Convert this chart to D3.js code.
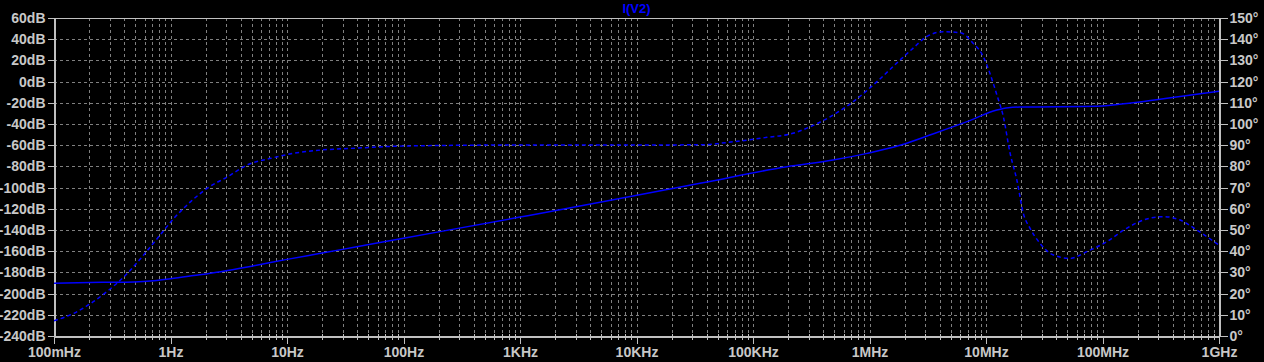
<!DOCTYPE html>
<html>
  <head>
    <meta http-equiv="Content-Type" content="text/html;charset=utf-8"/>
    <script src="https://d3js.org/d3.v7.min.js"></script>
    <style type="text/css">
    body { margin: 0; background: #000; }
    .grid-line {
      stroke: #808080;
      stroke-width: 1px;
      stroke-dasharray: 3,3;
      shape-rendering: crispEdges;
    }
    .axis path, .axis line {
      stroke: #c0c0c0;
      shape-rendering: crispEdges;
    }
    .axis text {
      fill: #c8c8c8;
      font-family: "Liberation Sans", Arial, sans-serif;
      font-size: 14px;
      font-weight: bold;
    }
    </style>
  </head>
  <body>
    <script type="text/javascript">
    // frequency ticks (Hz) and their labels
    var decadeTicks = [0.1, 1, 10, 100, 1e3, 1e4, 1e5, 1e6, 1e7, 1e8, 1e9];
    var decadeLabels = ["100mHz", "1Hz", "10Hz", "100Hz", "1KHz", "10KHz", "100KHz", "1MHz", "10MHz", "100MHz", "1GHz"];
    var dbTicks = [-240, -220, -200, -180, -160, -140, -120, -100, -80, -60, -40, -20, 0, 20, 40, 60];
    var degTicks = [0, 10, 20, 30, 40, 50, 60, 70, 80, 90, 100, 110, 120, 130, 140, 150];

    // magnitude trace I(V2), dB
    var magFreq = [0.1, 0.258, 0.486, 0.72, 1, 1.58, 2.7, 5.2, 10, 19.5, 37.6, 100, 1000, 4860, 35100, 195000, 486000, 955000, 1.83e6, 3.5e6, 6.87e6, 12.4e6, 15.5e6, 19.5e6, 89.7e6, 183e6, 358e6, 1e9];
    var magDb = [-190.3, -189.4, -189, -187.8, -186, -183, -179.3, -173.7, -167.7, -162, -156.3, -147.8, -127.8, -113.9, -96, -80.3, -74, -67.7, -60.1, -49.4, -37.8, -26.8, -24.6, -24, -23.3, -19.9, -15.8, -9.2];

    // phase trace I(V2), degrees
    var phFreq = [0.1, 0.148, 0.207, 0.296, 0.4, 0.555, 0.77, 1.07, 1.49, 2.07, 3.08, 4.57, 7.25, 11.5, 19.4, 35.3, 100, 1000, 10000, 35000, 67300, 132000, 220000, 309000, 486000, 724000, 1.16e6, 1.83e6, 2.36e6, 3.09e6, 4.3e6, 5.99e6, 7.78e6, 9.48e6, 10.8e6, 12.4e6, 14.1e6, 16.1e6, 18.4e6, 20.9e6, 23.9e6, 29.1e6, 37.9e6, 52.6e6, 73.2e6, 109e6, 161e6, 240e6, 334e6, 464e6, 645e6, 1e9];
    var phDeg = [7.2, 10.7, 15.4, 21.7, 28, 36.6, 46, 55.5, 63.4, 69.7, 75.1, 80.7, 83.8, 86.2, 87.7, 88.5, 89.6, 90.1, 90.1, 90.2, 91.6, 93.7, 95.6, 98.7, 104.2, 110.5, 120, 130.2, 135.7, 141.2, 143.5, 143.1, 138, 131.8, 123.9, 113.7, 103.4, 86.2, 73.6, 57.9, 50.8, 43.7, 38.2, 36.6, 39.8, 44.5, 50.8, 55.2, 56.3, 54.7, 50, 42.9];

    var width = 1264;
    var height = 362;
    var plotLeft = 54, plotRight = 1219, plotTop = 18, plotBottom = 336;

    var svg = d3.select("body")
      .append("svg")
        .attr("width", width)
        .attr("height", height)
        .style("display", "block")
        .style("background", "#000");

    var x = d3.scaleLog().domain([0.1, 1e9]).range([plotLeft, plotRight]);
    var yDb = d3.scaleLinear().domain([-240, 60]).range([plotBottom, plotTop]);
    var yDeg = d3.scaleLinear().domain([0, 150]).range([plotBottom, plotTop]);

    var minorTicks = [];
    decadeTicks.slice(0, -1).forEach(function(d) {
      for (var k = 2; k <= 9; k++) minorTicks.push(d * k);
    });

    // grid
    var grid = svg.append("g");
    grid.selectAll("line.v")
      .data(minorTicks.concat(decadeTicks.slice(1, -1)))
      .enter().append("line")
        .classed("grid-line", true)
        .attr("x1", function(d) { return Math.round(x(d)) + 0.5; })
        .attr("x2", function(d) { return Math.round(x(d)) + 0.5; })
        .attr("y1", plotTop)
        .attr("y2", plotBottom);
    grid.selectAll("line.h")
      .data(dbTicks.slice(1, -1))
      .enter().append("line")
        .classed("grid-line", true)
        .attr("x1", plotLeft)
        .attr("x2", plotRight)
        .attr("y1", function(d) { return Math.round(yDb(d)) + 0.5; })
        .attr("y2", function(d) { return Math.round(yDb(d)) + 0.5; });

    // border
    svg.append("rect")
      .attr("x", plotLeft + 0.5).attr("y", plotTop + 0.5)
      .attr("width", plotRight - plotLeft).attr("height", plotBottom - plotTop)
      .attr("fill", "none").attr("stroke", "#c0c0c0")
      .style("shape-rendering", "crispEdges");

    // axes
    svg.append("g")
        .classed("axis", true)
        .attr("transform", "translate(" + (plotLeft + 0.5) + ",0)")
        .call(d3.axisLeft(yDb).tickValues(dbTicks).tickFormat(function(d) { return d + "dB"; })
          .tickSize(7).tickSizeOuter(0).tickPadding(2));

    svg.append("g")
        .classed("axis", true)
        .attr("transform", "translate(" + (plotRight + 0.5) + ",0)")
        .call(d3.axisRight(yDeg).tickValues(degTicks).tickFormat(function(d) { return d + "\u00b0"; })
          .tickSize(8).tickSizeOuter(0).tickPadding(2));

    svg.append("g")
        .classed("axis", true)
        .attr("transform", "translate(0," + (plotBottom + 0.5) + ")")
        .call(d3.axisBottom(x).tickValues(decadeTicks)
          .tickFormat(function(d, i) { return decadeLabels[i]; })
          .tickSize(7).tickSizeOuter(0).tickPadding(4));

    svg.append("g")
        .classed("axis", true)
        .attr("transform", "translate(0," + (plotBottom - 2.5) + ")")
        .call(d3.axisBottom(x).tickValues(minorTicks).tickFormat("")
          .tickSize(6).tickSizeOuter(0))
        .select(".domain").remove();

    // traces
    svg.append("clipPath").attr("id", "plot-clip")
      .append("rect").attr("x", plotLeft).attr("y", plotTop)
      .attr("width", plotRight - plotLeft + 1).attr("height", plotBottom - plotTop);

    var magLine = d3.line()
      .x(function(d, i) { return x(magFreq[i]); })
      .y(function(d) { return yDb(d); })
      .curve(d3.curveMonotoneX);

    var phLine = d3.line()
      .x(function(d, i) { return x(phFreq[i]); })
      .y(function(d) { return yDeg(d); })
      .curve(d3.curveMonotoneX);

    svg.append("path")
      .datum(magDb)
      .attr("clip-path", "url(#plot-clip)")
      .attr("fill", "none")
      .attr("stroke", "#0000ff")
      .attr("stroke-width", 1.5)
      .attr("d", magLine);

    svg.append("path")
      .datum(phDeg)
      .attr("clip-path", "url(#plot-clip)")
      .attr("fill", "none")
      .attr("stroke", "#0000ff")
      .attr("stroke-width", 1.5)
      .attr("stroke-dasharray", "4,3")
      .attr("d", phLine);

    // title
    svg.append("text")
      .attr("x", (plotLeft + plotRight) / 2)
      .attr("y", 13)
      .attr("text-anchor", "middle")
      .attr("fill", "#0000ff")
      .style("font-family", "'Liberation Sans', Arial, sans-serif")
      .style("font-size", "13px")
      .style("font-weight", "bold")
      .text("I(V2)");
    </script>
  </body>
</html>
